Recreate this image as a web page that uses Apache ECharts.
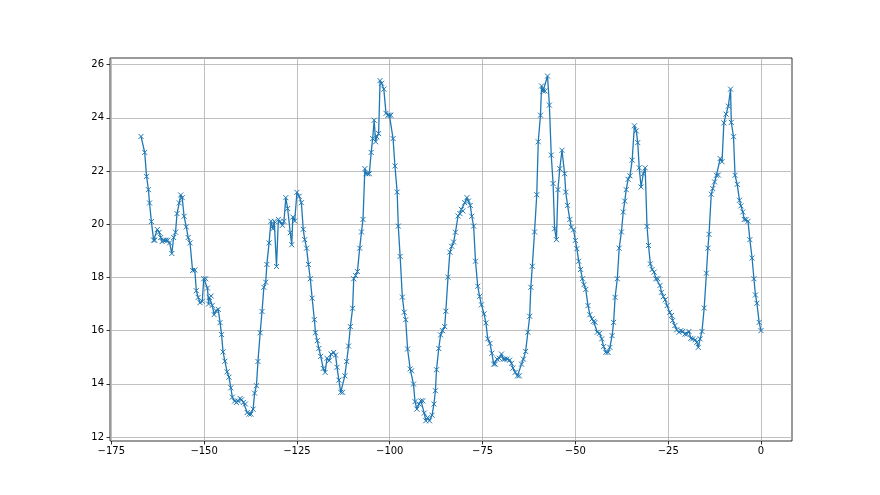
<!DOCTYPE html>
<html>
<head>
<meta charset="utf-8">
<script src="https://cdn.jsdelivr.net/npm/echarts@6/dist/echarts.min.js"></script>
<style>
  html, body { margin: 0; padding: 0; background: #ffffff; }
  #chart { width: 880px; height: 495px; }
</style>
</head>
<body>
<div id="chart"></div>
<script>
// x positions of the samples
const xValues = [
  -167.0,-166.0,-165.5,-165.0,-164.7,-164.2,-163.6,-163.3,-162.6,-162.1,-161.7,-161.3,-160.8,-160.3,-159.8,-159.3,-158.7,-158.2,-157.7,-157.3,
  -156.7,-156.3,-155.9,-155.4,-154.8,-154.3,-153.8,-153.1,-152.5,-152.1,-151.6,-151.1,-150.5,-150.1,-149.6,-149.1,-148.8,-148.6,-148.1,-147.8,
  -147.3,-146.8,-146.2,-145.7,-145.3,-144.9,-144.4,-143.8,-143.3,-142.8,-142.4,-141.8,-141.3,-140.8,-140.3,-139.9,-139.4,-138.9,-138.4,-137.9,
  -137.4,-136.8,-136.4,-135.9,-135.5,-134.9,-134.4,-133.9,-133.4,-133.1,-132.5,-132.0,-131.5,-131.1,-130.5,-130.0,-129.5,-128.9,-128.5,-128.0,
  -127.5,-126.8,-126.4,-126.1,-125.6,-125.0,-124.4,-123.8,-123.3,-122.9,-122.4,-121.9,-121.4,-120.9,-120.3,-120.0,-119.5,-119.1,-118.6,-117.9,
  -117.4,-116.9,-116.3,-115.8,-115.1,-114.6,-114.2,-113.7,-113.2,-112.7,-112.1,-111.6,-111.1,-110.6,-110.0,-109.7,-109.2,-108.7,-108.1,-107.6,
  -107.2,-106.7,-106.4,-105.9,-105.5,-105.0,-104.6,-104.2,-103.8,-103.5,-103.0,-102.6,-102.2,-101.6,-101.0,-100.5,-100.1,-99.7,-99.1,-98.6,
  -98.0,-97.7,-97.2,-96.6,-96.1,-95.7,-95.2,-94.5,-94.1,-93.6,-93.2,-92.7,-92.1,-91.6,-91.1,-90.7,-90.3,-89.8,-89.3,-88.6,
  -88.1,-87.7,-87.4,-86.8,-86.3,-85.8,-85.2,-84.9,-84.3,-83.8,-83.3,-82.8,-82.3,-81.6,-81.1,-80.7,-80.3,-79.8,-79.2,-78.8,
  -78.3,-77.9,-77.4,-76.9,-76.3,-75.8,-75.3,-74.6,-74.1,-73.6,-73.0,-72.5,-72.0,-71.6,-71.1,-70.5,-69.9,-69.4,-69.0,-68.4,
  -67.7,-67.2,-66.8,-66.2,-65.6,-65.1,-64.5,-64.0,-63.4,-62.8,-62.3,-62.0,-61.6,-61.0,-60.4,-60.0,-59.4,-59.1,-58.7,-58.2,
  -57.5,-57.0,-56.5,-56.0,-55.6,-55.1,-54.7,-54.2,-53.6,-52.9,-52.6,-52.1,-51.5,-51.1,-50.5,-50.0,-49.6,-49.1,-48.6,-48.1,
  -47.7,-47.2,-46.6,-46.1,-45.5,-45.1,-44.7,-44.1,-43.5,-42.9,-42.4,-41.8,-41.2,-40.7,-40.1,-39.7,-39.3,-38.7,-38.2,-37.6,
  -37.1,-36.7,-36.3,-35.8,-35.3,-34.7,-34.1,-33.6,-33.2,-32.8,-32.3,-31.7,-31.2,-30.7,-30.3,-29.8,-29.3,-28.8,-28.3,-27.8,
  -27.2,-26.8,-26.3,-25.8,-25.3,-24.6,-24.1,-23.8,-23.2,-22.7,-22.1,-21.6,-21.1,-20.5,-20.0,-19.4,-18.9,-18.4,-17.7,-17.3,
  -16.9,-16.4,-15.9,-15.3,-14.7,-14.3,-14.0,-13.4,-13.0,-12.5,-12.0,-11.5,-11.0,-10.5,-10.0,-9.4,-8.8,-8.2,-8.0,-7.4,
  -7.0,-6.4,-5.8,-5.4,-4.9,-4.5,-4.0,-3.5,-3.0,-2.4,-1.9,-1.5,-1.1,-0.5,0.0
];
// y values of the samples
const yValues = [
  23.3,22.7,21.8,21.3,20.8,20.1,19.4,19.4,19.8,19.7,19.5,19.35,19.4,19.4,19.4,19.3,18.9,19.5,19.7,20.4,
  20.8,21.1,21.0,20.3,19.9,19.5,19.3,18.26,18.28,17.5,17.25,17.05,17.1,17.95,17.95,17.6,17.0,17.25,17.3,16.95,
  16.6,16.75,16.8,16.3,15.85,15.2,14.85,14.45,14.25,13.85,13.5,13.35,13.3,13.35,13.45,13.4,13.3,13.24,12.92,12.86,
  12.86,13.05,13.65,13.93,14.84,15.92,16.72,17.63,17.82,18.49,19.3,20.11,19.83,20.11,18.41,20.18,20.11,19.96,20.11,21.0,
  20.59,19.68,19.23,20.27,20.12,21.2,21.05,20.81,19.81,19.42,19.1,18.49,17.95,17.22,16.41,15.92,15.62,15.33,15.03,14.58,
  14.43,14.96,14.87,15.12,15.18,15.08,14.62,14.14,13.68,13.68,14.3,14.84,15.42,16.15,16.84,17.95,18.07,18.22,19.1,19.71,
  20.18,22.09,21.9,21.9,21.9,22.7,23.22,23.91,23.1,23.29,23.41,25.4,25.3,25.08,24.17,24.1,24.1,24.1,23.22,22.19,
  21.21,19.93,18.79,17.26,16.69,16.41,15.31,14.56,14.49,13.99,13.33,13.05,13.24,13.36,13.36,12.9,12.61,12.73,12.61,12.82,
  13.24,13.74,14.53,15.33,15.84,16.0,16.15,16.73,18.01,18.95,19.17,19.33,19.7,20.31,20.4,20.56,20.5,20.81,21.0,20.87,
  20.71,20.3,19.93,18.61,17.67,17.29,16.97,16.63,16.29,15.69,15.52,15.15,14.74,14.74,14.93,14.96,15.12,14.93,14.93,14.93,
  14.89,14.77,14.59,14.43,14.3,14.3,14.74,14.93,15.22,15.94,16.54,17.63,18.42,19.71,21.11,23.1,24.1,25.2,25.01,25.01,
  25.57,24.48,22.6,21.53,19.83,19.42,21.3,22.09,22.78,21.9,21.21,20.71,20.18,19.89,19.79,19.39,19.08,18.61,18.3,17.95,
  17.73,17.55,16.94,16.6,16.44,16.35,16.31,15.94,15.9,15.69,15.4,15.18,15.18,15.37,15.81,16.31,17.25,17.95,19.1,19.71,
  20.46,20.87,21.3,21.69,21.82,22.41,23.7,23.51,23.07,22.12,21.4,21.9,22.12,19.92,19.2,18.51,18.3,18.2,17.95,17.95,
  17.7,17.44,17.28,17.16,16.94,16.69,16.57,16.38,16.19,16.03,15.94,16.0,15.97,15.87,15.87,15.97,15.71,15.69,15.65,15.56,
  15.37,15.69,15.97,16.85,18.16,19.1,19.62,21.13,21.34,21.59,21.84,21.85,22.47,22.35,23.81,24.14,24.44,25.08,23.83,23.29,
  21.84,21.5,20.9,20.69,20.46,20.18,20.18,20.11,19.42,18.73,17.95,17.34,17.03,16.31,16.0
];
// tick labels
const xTicks = [-175, -150, -125, -100, -75, -50, -25, 0];
const yTicks = [12, 14, 16, 18, 20, 22, 24, 26];

const seriesData = xValues.map((x, i) => [x, yValues[i]]);
const fmt = v => String(v).replace('-', '\u2212');

const chart = echarts.init(document.getElementById('chart'), null, { renderer: 'canvas' });
chart.setOption({
  animation: false,
  backgroundColor: '#ffffff',
  grid: {
    left: 110, right: 88, top: 58, bottom: 54,
    show: true, borderColor: '#000000', borderWidth: 0.8, backgroundColor: 'transparent'
  },
  xAxis: {
    type: 'value',
    min: -175.35, max: 8.35,
    axisLine: { show: false, onZero: false },
    axisTick: { show: true, length: 3.5, lineStyle: { color: '#000', width: 0.8 }, customValues: xTicks },
    axisLabel: { customValues: xTicks, formatter: fmt, fontSize: 10, color: '#000', fontFamily: 'DejaVu Sans', margin: 5 },
    splitLine: { show: true, lineStyle: { color: '#b0b0b0', width: 0.8 } }
  },
  yAxis: {
    type: 'value',
    min: 11.85, max: 26.25,
    axisLine: { show: false, onZero: false },
    axisTick: { show: true, length: 3.5, lineStyle: { color: '#000', width: 0.8 }, customValues: yTicks },
    axisLabel: { customValues: yTicks, formatter: fmt, fontSize: 10, color: '#000', fontFamily: 'DejaVu Sans', margin: 6 },
    splitLine: { show: true, lineStyle: { color: '#b0b0b0', width: 0.8 } }
  },
  series: [{
    type: 'line',
    data: seriesData,
    showAllSymbol: true,
    symbol: 'path://M0,0L10,10M10,0L0,10',
    symbolSize: 5,
    color: '#1f77b4',
    lineStyle: { color: '#1f77b4', width: 1.3 },
    itemStyle: { color: '#1f77b4', borderColor: '#1f77b4', borderWidth: 1 },
    emphasis: { disabled: true }
  }]
});
</script>
</body>
</html>
